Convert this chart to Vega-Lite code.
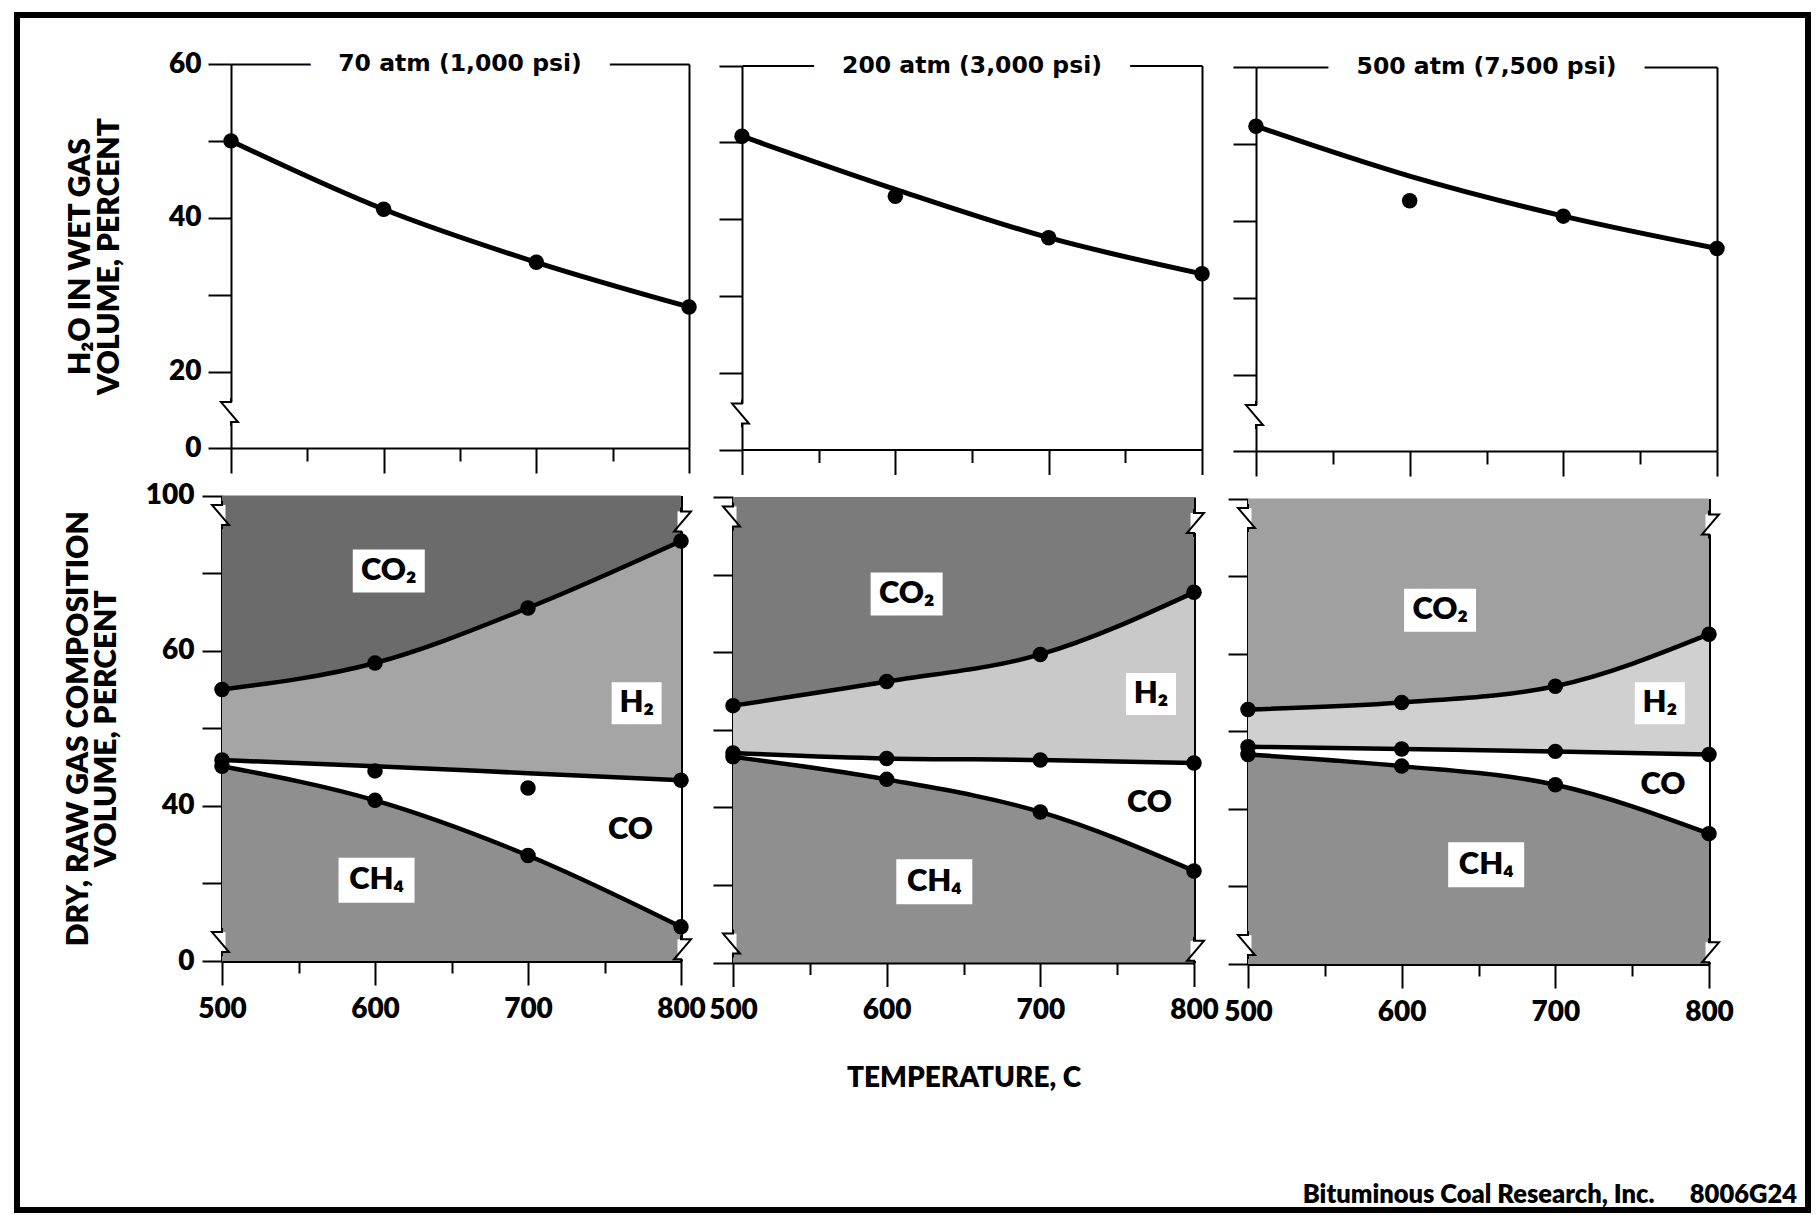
{
  "$schema": "https://vega.github.io/schema/vega-lite/v6.json",
  "width": 1791,
  "height": 1195,
  "autosize": {"type": "none"},
  "padding": {"left": 17, "top": 15, "right": 12, "bottom": 5},
  "background": "white",
  "title": {
    "text": "Bituminous Coal Research, Inc.\u00a0\u00a0\u00a0\u00a0\u00a0\u00a08006G24",
    "orient": "bottom", "anchor": "end", "frame": "group",
    "baseline": "alphabetic", "offset": -7, "dx": -11,
    "font": "Lato", "fontWeight": 800, "fontSize": 25.5, "color": "black"
  },
  "config": {
    "view": {"stroke": "black", "strokeWidth": 6},
    "axis": {
      "domainColor": "black", "domainWidth": 2, "tickColor": "black", "tickWidth": 2,
      "labelFont": "Lato", "labelFontWeight": 800, "labelColor": "black", "labelFontSize": 28,
      "titleFont": "Lato", "titleFontWeight": 800, "titleColor": "black", "titleFontSize": 30,
      "grid": false, "labelOverlap": false, "labelFlush": false, "labelBound": false
    }
  },
  "datasets": {
    "h2o": [
      {"p": "70", "t": 500, "line": 50.0, "pt": 50.0},
      {"p": "70", "t": 600, "line": 41.1, "pt": 41.1},
      {"p": "70", "t": 700, "line": 34.2, "pt": 34.2},
      {"p": "70", "t": 800, "line": 28.4, "pt": 28.4},
      {"p": "200", "t": 500, "line": 50.8, "pt": 50.8},
      {"p": "200", "t": 600, "line": 43.9, "pt": 43.0},
      {"p": "200", "t": 700, "line": 37.6, "pt": 37.6},
      {"p": "200", "t": 800, "line": 32.9, "pt": 32.9},
      {"p": "500", "t": 500, "line": 52.3, "pt": 52.3},
      {"p": "500", "t": 600, "line": 45.8, "pt": 42.6},
      {"p": "500", "t": 700, "line": 40.6, "pt": 40.6},
      {"p": "500", "t": 800, "line": 36.4, "pt": 36.4}
    ],
    "panels": [
      {"p": "70", "title": "70 atm (1,000 psi)"},
      {"p": "200", "title": "200 atm (3,000 psi)"},
      {"p": "500", "title": "500 atm (7,500 psi)"}
    ],
    "brk": [
      {"part": "top", "p": "70", "t": 500, "v": 9.4, "side": "L"},
      {"part": "top", "p": "200", "t": 500, "v": 9.4, "side": "L"},
      {"part": "top", "p": "500", "t": 500, "v": 9.4, "side": "L"},
      {"part": "bottom", "p": "70", "t": 500, "v": 92.5, "side": "L"},
      {"part": "bottom", "p": "70", "t": 500, "v": 7.3, "side": "L"},
      {"part": "bottom", "p": "70", "t": 800, "v": 90, "side": "R"},
      {"part": "bottom", "p": "70", "t": 800, "v": 4.5, "side": "R"},
      {"part": "bottom", "p": "200", "t": 500, "v": 92.5, "side": "L"},
      {"part": "bottom", "p": "200", "t": 500, "v": 7.3, "side": "L"},
      {"part": "bottom", "p": "200", "t": 800, "v": 90, "side": "R"},
      {"part": "bottom", "p": "200", "t": 800, "v": 4.5, "side": "R"},
      {"part": "bottom", "p": "500", "t": 500, "v": 92.5, "side": "L"},
      {"part": "bottom", "p": "500", "t": 500, "v": 7.3, "side": "L"},
      {"part": "bottom", "p": "500", "t": 800, "v": 90, "side": "R"},
      {"part": "bottom", "p": "500", "t": 800, "v": 4.5, "side": "R"}
    ],
    "comp": [
      {"p": "70", "t": 500, "gas": "CH4", "lo": 0, "hi": 45.1},
      {"p": "70", "t": 500, "gas": "CO", "lo": 45.1, "hi": 45.9},
      {"p": "70", "t": 500, "gas": "H2", "lo": 45.9, "hi": 55.0},
      {"p": "70", "t": 500, "gas": "CO2", "lo": 55.0, "hi": 100},
      {"p": "70", "t": 600, "gas": "CH4", "lo": 0, "hi": 40.7},
      {"p": "70", "t": 600, "gas": "CO", "lo": 40.7, "hi": 45.1},
      {"p": "70", "t": 600, "gas": "H2", "lo": 45.1, "hi": 58.4},
      {"p": "70", "t": 600, "gas": "CO2", "lo": 58.4, "hi": 100},
      {"p": "70", "t": 700, "gas": "CH4", "lo": 0, "hi": 33.6},
      {"p": "70", "t": 700, "gas": "CO", "lo": 33.6, "hi": 44.2},
      {"p": "70", "t": 700, "gas": "H2", "lo": 44.2, "hi": 65.5},
      {"p": "70", "t": 700, "gas": "CO2", "lo": 65.5, "hi": 100},
      {"p": "70", "t": 800, "gas": "CH4", "lo": 0, "hi": 13.2},
      {"p": "70", "t": 800, "gas": "CO", "lo": 13.2, "hi": 43.3},
      {"p": "70", "t": 800, "gas": "H2", "lo": 43.3, "hi": 82.4},
      {"p": "70", "t": 800, "gas": "CO2", "lo": 82.4, "hi": 100},
      {"p": "200", "t": 500, "gas": "CH4", "lo": 0, "hi": 46.5},
      {"p": "200", "t": 500, "gas": "CO", "lo": 46.5, "hi": 47.0},
      {"p": "200", "t": 500, "gas": "H2", "lo": 47.0, "hi": 53.1},
      {"p": "200", "t": 500, "gas": "CO2", "lo": 53.1, "hi": 100},
      {"p": "200", "t": 600, "gas": "CH4", "lo": 0, "hi": 43.6},
      {"p": "200", "t": 600, "gas": "CO", "lo": 43.6, "hi": 46.3},
      {"p": "200", "t": 600, "gas": "H2", "lo": 46.3, "hi": 56.2},
      {"p": "200", "t": 600, "gas": "CO2", "lo": 56.2, "hi": 100},
      {"p": "200", "t": 700, "gas": "CH4", "lo": 0, "hi": 39.4},
      {"p": "200", "t": 700, "gas": "CO", "lo": 39.4, "hi": 46.1},
      {"p": "200", "t": 700, "gas": "H2", "lo": 46.1, "hi": 59.7},
      {"p": "200", "t": 700, "gas": "CO2", "lo": 59.7, "hi": 100},
      {"p": "200", "t": 800, "gas": "CH4", "lo": 0, "hi": 31.8},
      {"p": "200", "t": 800, "gas": "CO", "lo": 31.8, "hi": 45.7},
      {"p": "200", "t": 800, "gas": "H2", "lo": 45.7, "hi": 67.7},
      {"p": "200", "t": 800, "gas": "CO2", "lo": 67.7, "hi": 100},
      {"p": "500", "t": 500, "gas": "CH4", "lo": 0, "hi": 47.0},
      {"p": "500", "t": 500, "gas": "CO", "lo": 47.0, "hi": 48.0},
      {"p": "500", "t": 500, "gas": "H2", "lo": 48.0, "hi": 52.8},
      {"p": "500", "t": 500, "gas": "CO2", "lo": 52.8, "hi": 100},
      {"p": "500", "t": 600, "gas": "CH4", "lo": 0, "hi": 45.5},
      {"p": "500", "t": 600, "gas": "CO", "lo": 45.5, "hi": 47.7},
      {"p": "500", "t": 600, "gas": "H2", "lo": 47.7, "hi": 53.7},
      {"p": "500", "t": 600, "gas": "CO2", "lo": 53.7, "hi": 100},
      {"p": "500", "t": 700, "gas": "CH4", "lo": 0, "hi": 43.1},
      {"p": "500", "t": 700, "gas": "CO", "lo": 43.1, "hi": 47.4},
      {"p": "500", "t": 700, "gas": "H2", "lo": 47.4, "hi": 55.8},
      {"p": "500", "t": 700, "gas": "CO2", "lo": 55.8, "hi": 100},
      {"p": "500", "t": 800, "gas": "CH4", "lo": 0, "hi": 36.8},
      {"p": "500", "t": 800, "gas": "CO", "lo": 36.8, "hi": 47.0},
      {"p": "500", "t": 800, "gas": "H2", "lo": 47.0, "hi": 62.5},
      {"p": "500", "t": 800, "gas": "CO2", "lo": 62.5, "hi": 100}
    ],
    "pts": [
      {"p": "70", "b": "H2/CO2", "t": 500, "v": 55.0},
      {"p": "70", "b": "H2/CO2", "t": 600, "v": 58.4},
      {"p": "70", "b": "H2/CO2", "t": 700, "v": 65.5},
      {"p": "70", "b": "H2/CO2", "t": 800, "v": 82.4},
      {"p": "70", "b": "CO/H2", "t": 500, "v": 45.9},
      {"p": "70", "b": "CO/H2", "t": 600, "v": 44.5},
      {"p": "70", "b": "CO/H2", "t": 700, "v": 42.3},
      {"p": "70", "b": "CO/H2", "t": 800, "v": 43.3},
      {"p": "70", "b": "CH4/CO", "t": 500, "v": 45.1},
      {"p": "70", "b": "CH4/CO", "t": 600, "v": 40.7},
      {"p": "70", "b": "CH4/CO", "t": 700, "v": 33.6},
      {"p": "70", "b": "CH4/CO", "t": 800, "v": 13.2},
      {"p": "200", "b": "H2/CO2", "t": 500, "v": 53.1},
      {"p": "200", "b": "H2/CO2", "t": 600, "v": 56.2},
      {"p": "200", "b": "H2/CO2", "t": 700, "v": 59.7},
      {"p": "200", "b": "H2/CO2", "t": 800, "v": 67.7},
      {"p": "200", "b": "CO/H2", "t": 500, "v": 47.0},
      {"p": "200", "b": "CO/H2", "t": 600, "v": 46.3},
      {"p": "200", "b": "CO/H2", "t": 700, "v": 46.1},
      {"p": "200", "b": "CO/H2", "t": 800, "v": 45.7},
      {"p": "200", "b": "CH4/CO", "t": 500, "v": 46.5},
      {"p": "200", "b": "CH4/CO", "t": 600, "v": 43.6},
      {"p": "200", "b": "CH4/CO", "t": 700, "v": 39.4},
      {"p": "200", "b": "CH4/CO", "t": 800, "v": 31.8},
      {"p": "500", "b": "H2/CO2", "t": 500, "v": 52.8},
      {"p": "500", "b": "H2/CO2", "t": 600, "v": 53.7},
      {"p": "500", "b": "H2/CO2", "t": 700, "v": 55.8},
      {"p": "500", "b": "H2/CO2", "t": 800, "v": 62.5},
      {"p": "500", "b": "CO/H2", "t": 500, "v": 48.0},
      {"p": "500", "b": "CO/H2", "t": 600, "v": 47.7},
      {"p": "500", "b": "CO/H2", "t": 700, "v": 47.4},
      {"p": "500", "b": "CO/H2", "t": 800, "v": 47.0},
      {"p": "500", "b": "CH4/CO", "t": 500, "v": 47.0},
      {"p": "500", "b": "CH4/CO", "t": 600, "v": 45.5},
      {"p": "500", "b": "CH4/CO", "t": 700, "v": 43.1},
      {"p": "500", "b": "CH4/CO", "t": 800, "v": 36.8}
    ],
    "lbl": [
      {"p": "70", "gas": "CO2", "label": "CO₂", "t": 609, "v": 70.8},
      {"p": "70", "gas": "H2", "label": "H₂", "t": 771, "v": 53.2},
      {"p": "70", "gas": "CO", "label": "CO", "t": 767, "v": 36.9},
      {"p": "70", "gas": "CH4", "label": "CH₄", "t": 601, "v": 30.4},
      {"p": "200", "gas": "CO2", "label": "CO₂", "t": 613, "v": 67.5},
      {"p": "200", "gas": "H2", "label": "H₂", "t": 772, "v": 54.6},
      {"p": "200", "gas": "CO", "label": "CO", "t": 771, "v": 40.6},
      {"p": "200", "gas": "CH4", "label": "CH₄", "t": 631, "v": 30.4},
      {"p": "500", "gas": "CO2", "label": "CO₂", "t": 625, "v": 65.6},
      {"p": "500", "gas": "H2", "label": "H₂", "t": 768, "v": 53.6},
      {"p": "500", "gas": "CO", "label": "CO", "t": 770, "v": 43.1},
      {"p": "500", "gas": "CH4", "label": "CH₄", "t": 655, "v": 32.8}
    ]
  },
  "resolve": {
    "scale": {"x": "independent", "y": "independent", "color": "independent"},
    "axis": {"x": "independent", "y": "independent"}
  },
  "layer": [
    {
      "layer": [
        {
          "data": {"name": "h2o"}, "transform": [{"filter": "datum.p == '70'"}],
          "mark": {"type": "line", "interpolate": "monotone", "color": "black", "strokeWidth": 5},
          "encoding": {
            "x": {"field": "t", "type": "quantitative",
              "scale": {"domain": [500, 800], "range": [214, 672], "nice": false, "zero": false},
              "axis": {"orient": "bottom", "offset": -762, "values": [500, 550, 600, 650, 700, 750, 800], "labels": false,
                "tickSize": {"condition": {"test": "datum.value % 100 == 0", "value": 25}, "value": 13}, "title": null}},
            "y": {"field": "line", "type": "quantitative",
              "scale": {"domain": [0, 20, 60], "range": [433, 356.5, 49], "nice": false, "zero": false},
              "axis": {"orient": "left", "offset": -214, "values": [0, 20, 30, 40, 50, 60],
                "labelExpr": "datum.value % 20 == 0 ? datum.label : ''", "tickSize": 23, "labelPadding": 7,
                "title": ["H₂O IN WET GAS", "VOLUME, PERCENT"], "titlePadding": 44, "titleLineHeight": 29}}
          }
        },
        {
          "data": {"name": "h2o"}, "transform": [{"filter": "datum.p == '70'"}],
          "mark": {"type": "circle", "size": 240, "color": "black", "opacity": 1},
          "encoding": {"x": {"field": "t", "type": "quantitative", "axis": null}, "y": {"field": "pt", "type": "quantitative", "axis": null}}
        },
        {
          "data": {"name": "h2o"}, "transform": [{"filter": "datum.p == '70'"}],
          "mark": {"type": "point", "opacity": 0},
          "encoding": {
            "x": {"field": "t", "type": "quantitative", "axis": {"orient": "top", "offset": -49, "ticks": false, "labels": false, "title": null}},
            "y": {"field": "line", "type": "quantitative", "axis": {"orient": "right", "offset": -1119, "ticks": false, "labels": false, "title": null}}
          }
        },
        {
          "data": {"name": "brk"}, "transform": [{"filter": "datum.p == '70' && datum.part == 'top'"}],
          "mark": {"type": "point", "shape": "M-0.35,-1H0.35V1H-0.35Z", "size": 400, "filled": true, "fill": "white", "strokeWidth": 0, "opacity": 1},
          "encoding": {"x": {"field": "t", "type": "quantitative", "axis": null}, "y": {"field": "v", "type": "quantitative", "axis": null}}
        },
        {
          "data": {"name": "brk"}, "transform": [{"filter": "datum.p == '70' && datum.part == 'top'"}],
          "mark": {"type": "point", "shape": "M0,-1.4L0,-1L-1,-1L0.7,1L0,1L0,1.4", "size": 400, "filled": false, "stroke": "black", "strokeWidth": 2, "opacity": 1},
          "encoding": {"x": {"field": "t", "type": "quantitative", "axis": null}, "y": {"field": "v", "type": "quantitative", "axis": null}}
        },
        {
          "data": {"name": "panels"}, "transform": [{"filter": "datum.p == '70'"}],
          "mark": {"type": "text", "font": "DejaVu Sans", "fontWeight": "bold", "fontSize": 23.5, "fill": "white", "stroke": "white", "strokeWidth": 60, "strokeJoin": "round"},
          "encoding": {"x": {"datum": 650, "axis": null}, "y": {"datum": 60, "axis": null}, "text": {"field": "title"}}
        },
        {
          "data": {"name": "panels"}, "transform": [{"filter": "datum.p == '70'"}],
          "mark": {"type": "text", "font": "DejaVu Sans", "fontWeight": "bold", "fontSize": 23.5, "fill": "black"},
          "encoding": {"x": {"datum": 650, "axis": null}, "y": {"datum": 60, "axis": null}, "text": {"field": "title"}}
        }
      ],
      "resolve": {"axis": {"x": "independent", "y": "independent"}}
    },
    {
      "layer": [
        {
          "data": {"name": "h2o"}, "transform": [{"filter": "datum.p == '200'"}],
          "mark": {"type": "line", "interpolate": "monotone", "color": "black", "strokeWidth": 5},
          "encoding": {
            "x": {"field": "t", "type": "quantitative",
              "scale": {"domain": [500, 800], "range": [725, 1185], "nice": false, "zero": false},
              "axis": {"orient": "bottom", "offset": -760.5, "values": [500, 550, 600, 650, 700, 750, 800], "labels": false,
                "tickSize": {"condition": {"test": "datum.value % 100 == 0", "value": 25}, "value": 13}, "title": null}},
            "y": {"field": "line", "type": "quantitative",
              "scale": {"domain": [0, 20, 60], "range": [434.5, 358, 50.5], "nice": false, "zero": false},
              "axis": {"orient": "left", "offset": -725, "values": [0, 20, 30, 40, 50, 60], "labels": false, "tickSize": 23, "title": null}}
          }
        },
        {
          "data": {"name": "h2o"}, "transform": [{"filter": "datum.p == '200'"}],
          "mark": {"type": "circle", "size": 240, "color": "black", "opacity": 1},
          "encoding": {"x": {"field": "t", "type": "quantitative", "axis": null}, "y": {"field": "pt", "type": "quantitative", "axis": null}}
        },
        {
          "data": {"name": "h2o"}, "transform": [{"filter": "datum.p == '200'"}],
          "mark": {"type": "point", "opacity": 0},
          "encoding": {
            "x": {"field": "t", "type": "quantitative", "axis": {"orient": "top", "offset": -50.5, "ticks": false, "labels": false, "title": null}},
            "y": {"field": "line", "type": "quantitative", "axis": {"orient": "right", "offset": -606, "ticks": false, "labels": false, "title": null}}
          }
        },
        {
          "data": {"name": "brk"}, "transform": [{"filter": "datum.p == '200' && datum.part == 'top'"}],
          "mark": {"type": "point", "shape": "M-0.35,-1H0.35V1H-0.35Z", "size": 400, "filled": true, "fill": "white", "strokeWidth": 0, "opacity": 1},
          "encoding": {"x": {"field": "t", "type": "quantitative", "axis": null}, "y": {"field": "v", "type": "quantitative", "axis": null}}
        },
        {
          "data": {"name": "brk"}, "transform": [{"filter": "datum.p == '200' && datum.part == 'top'"}],
          "mark": {"type": "point", "shape": "M0,-1.4L0,-1L-1,-1L0.7,1L0,1L0,1.4", "size": 400, "filled": false, "stroke": "black", "strokeWidth": 2, "opacity": 1},
          "encoding": {"x": {"field": "t", "type": "quantitative", "axis": null}, "y": {"field": "v", "type": "quantitative", "axis": null}}
        },
        {
          "data": {"name": "panels"}, "transform": [{"filter": "datum.p == '200'"}],
          "mark": {"type": "text", "font": "DejaVu Sans", "fontWeight": "bold", "fontSize": 23.5, "fill": "white", "stroke": "white", "strokeWidth": 60, "strokeJoin": "round"},
          "encoding": {"x": {"datum": 650, "axis": null}, "y": {"datum": 60, "axis": null}, "text": {"field": "title"}}
        },
        {
          "data": {"name": "panels"}, "transform": [{"filter": "datum.p == '200'"}],
          "mark": {"type": "text", "font": "DejaVu Sans", "fontWeight": "bold", "fontSize": 23.5, "fill": "black"},
          "encoding": {"x": {"datum": 650, "axis": null}, "y": {"datum": 60, "axis": null}, "text": {"field": "title"}}
        }
      ],
      "resolve": {"axis": {"x": "independent", "y": "independent"}}
    },
    {
      "layer": [
        {
          "data": {"name": "h2o"}, "transform": [{"filter": "datum.p == '500'"}],
          "mark": {"type": "line", "interpolate": "monotone", "color": "black", "strokeWidth": 5},
          "encoding": {
            "x": {"field": "t", "type": "quantitative",
              "scale": {"domain": [500, 800], "range": [1239, 1700], "nice": false, "zero": false},
              "axis": {"orient": "bottom", "offset": -759, "values": [500, 550, 600, 650, 700, 750, 800], "labels": false,
                "tickSize": {"condition": {"test": "datum.value % 100 == 0", "value": 25}, "value": 13}, "title": null}},
            "y": {"field": "line", "type": "quantitative",
              "scale": {"domain": [0, 20, 60], "range": [436, 359.5, 52], "nice": false, "zero": false},
              "axis": {"orient": "left", "offset": -1239, "values": [0, 20, 30, 40, 50, 60], "labels": false, "tickSize": 23, "title": null}}
          }
        },
        {
          "data": {"name": "h2o"}, "transform": [{"filter": "datum.p == '500'"}],
          "mark": {"type": "circle", "size": 240, "color": "black", "opacity": 1},
          "encoding": {"x": {"field": "t", "type": "quantitative", "axis": null}, "y": {"field": "pt", "type": "quantitative", "axis": null}}
        },
        {
          "data": {"name": "h2o"}, "transform": [{"filter": "datum.p == '500'"}],
          "mark": {"type": "point", "opacity": 0},
          "encoding": {
            "x": {"field": "t", "type": "quantitative", "axis": {"orient": "top", "offset": -52, "ticks": false, "labels": false, "title": null}},
            "y": {"field": "line", "type": "quantitative", "axis": {"orient": "right", "offset": -91, "ticks": false, "labels": false, "title": null}}
          }
        },
        {
          "data": {"name": "brk"}, "transform": [{"filter": "datum.p == '500' && datum.part == 'top'"}],
          "mark": {"type": "point", "shape": "M-0.35,-1H0.35V1H-0.35Z", "size": 400, "filled": true, "fill": "white", "strokeWidth": 0, "opacity": 1},
          "encoding": {"x": {"field": "t", "type": "quantitative", "axis": null}, "y": {"field": "v", "type": "quantitative", "axis": null}}
        },
        {
          "data": {"name": "brk"}, "transform": [{"filter": "datum.p == '500' && datum.part == 'top'"}],
          "mark": {"type": "point", "shape": "M0,-1.4L0,-1L-1,-1L0.7,1L0,1L0,1.4", "size": 400, "filled": false, "stroke": "black", "strokeWidth": 2, "opacity": 1},
          "encoding": {"x": {"field": "t", "type": "quantitative", "axis": null}, "y": {"field": "v", "type": "quantitative", "axis": null}}
        },
        {
          "data": {"name": "panels"}, "transform": [{"filter": "datum.p == '500'"}],
          "mark": {"type": "text", "font": "DejaVu Sans", "fontWeight": "bold", "fontSize": 23.5, "fill": "white", "stroke": "white", "strokeWidth": 60, "strokeJoin": "round"},
          "encoding": {"x": {"datum": 650, "axis": null}, "y": {"datum": 60, "axis": null}, "text": {"field": "title"}}
        },
        {
          "data": {"name": "panels"}, "transform": [{"filter": "datum.p == '500'"}],
          "mark": {"type": "text", "font": "DejaVu Sans", "fontWeight": "bold", "fontSize": 23.5, "fill": "black"},
          "encoding": {"x": {"datum": 650, "axis": null}, "y": {"datum": 60, "axis": null}, "text": {"field": "title"}}
        }
      ],
      "resolve": {"axis": {"x": "independent", "y": "independent"}}
    },
    {
      "layer": [
        {
          "data": {"name": "comp"}, "transform": [{"filter": "datum.p == '70'"}],
          "mark": {"type": "area", "interpolate": "monotone", "opacity": 1},
          "encoding": {
            "x": {"field": "t", "type": "quantitative",
              "scale": {"domain": [500, 800], "range": [205, 664], "nice": false, "zero": false},
              "axis": {"orient": "bottom", "offset": -249, "domainWidth": 3, "values": [500, 550, 600, 650, 700, 750, 800],
                "labelExpr": "datum.value % 100 == 0 ? datum.label : ''", "labelFontSize": 28, "labelPadding": 10,
                "tickSize": {"condition": {"test": "datum.value % 100 == 0", "value": 24}, "value": 12}, "title": null}},
            "y": {"field": "lo", "type": "quantitative",
              "scale": {"domain": [0, 30, 70, 100], "range": [946, 868.4, 558, 480.6], "nice": false, "zero": false},
              "axis": {"orient": "left", "offset": -205, "domainWidth": 3, "values": [0, 30, 40, 50, 60, 70, 100],
                "labelExpr": "(datum.value == 0 || datum.value == 40 || datum.value == 60 || datum.value == 100) ? datum.label : ''",
                "tickSize": 20, "labelPadding": 8,
                "title": ["DRY, RAW GAS COMPOSITION", "VOLUME, PERCENT"], "titlePadding": 24, "titleLineHeight": 28}},
            "y2": {"field": "hi"},
            "color": {"field": "gas", "type": "nominal",
              "scale": {"domain": ["CH4", "CO", "H2", "CO2"], "range": ["#8f8f8f", "#ffffff", "#a5a5a5", "#6b6b6b"]}, "legend": null}
          }
        },
        {
          "data": {"name": "lbl"}, "transform": [{"filter": "datum.p == '70'"}],
          "mark": {"type": "point", "filled": true, "fill": "white", "strokeWidth": 0, "size": 400, "opacity": 1},
          "encoding": {
            "x": {"field": "t", "type": "quantitative", "axis": null},
            "y": {"field": "v", "type": "quantitative", "axis": null},
            "shape": {"field": "gas", "type": "nominal", "legend": null,
              "scale": {"domain": ["CO2", "H2", "CO", "CH4"], "range": ["M-3.6,-2.15H3.6V2.15H-3.6Z", "M-2.5,-2.1H2.5V2.1H-2.5Z", "M-2.8,-2H2.8V2H-2.8Z", "M-3.8,-2.25H3.8V2.25H-3.8Z"]}}
          }
        },
        {
          "data": {"name": "comp"}, "transform": [{"filter": "datum.p == '70' && datum.gas != 'CO2'"}],
          "mark": {"type": "line", "interpolate": "monotone", "color": "black", "strokeWidth": 4.5},
          "encoding": {
            "x": {"field": "t", "type": "quantitative", "axis": null},
            "y": {"field": "hi", "type": "quantitative", "axis": null},
            "detail": {"field": "gas"}
          }
        },
        {
          "data": {"name": "pts"}, "transform": [{"filter": "datum.p == '70'"}],
          "mark": {"type": "circle", "size": 240, "color": "black", "opacity": 1},
          "encoding": {"x": {"field": "t", "type": "quantitative", "axis": null}, "y": {"field": "v", "type": "quantitative", "axis": null}}
        },
        {
          "data": {"name": "lbl"}, "transform": [{"filter": "datum.p == '70'"}],
          "mark": {"type": "text", "font": "Lato", "fontWeight": 800, "fontSize": 31, "fill": "black"},
          "encoding": {"x": {"field": "t", "type": "quantitative", "axis": null}, "y": {"field": "v", "type": "quantitative", "axis": null}, "text": {"field": "label"}}
        },
        {
          "data": {"name": "brk"}, "transform": [{"filter": "datum.p == '70' && datum.part == 'bottom'"}],
          "mark": {"type": "point", "shape": "M-0.35,-1H0.35V1H-0.35Z", "size": 400, "filled": true, "fill": "white", "strokeWidth": 0, "opacity": 1},
          "encoding": {"x": {"field": "t", "type": "quantitative", "axis": null}, "y": {"field": "v", "type": "quantitative", "axis": null}}
        },
        {
          "data": {"name": "brk"}, "transform": [{"filter": "datum.p == '70' && datum.part == 'bottom' && datum.side == 'L'"}],
          "mark": {"type": "point", "shape": "M0,-1.4L0,-1L-1,-1L0.7,1L0,1L0,1.4", "size": 400, "filled": false, "stroke": "black", "strokeWidth": 2, "opacity": 1},
          "encoding": {"x": {"field": "t", "type": "quantitative", "axis": null}, "y": {"field": "v", "type": "quantitative", "axis": null}}
        },
        {
          "data": {"name": "brk"}, "transform": [{"filter": "datum.p == '70' && datum.part == 'bottom' && datum.side == 'R'"}],
          "mark": {"type": "point", "shape": "M0,-1.4L0,-1L1,-1L-0.7,1L0,1L0,1.4", "size": 400, "filled": false, "stroke": "black", "strokeWidth": 2, "opacity": 1},
          "encoding": {"x": {"field": "t", "type": "quantitative", "axis": null}, "y": {"field": "v", "type": "quantitative", "axis": null}}
        },
        {
          "data": {"name": "comp"}, "transform": [{"filter": "datum.p == '70'"}],
          "mark": {"type": "point", "opacity": 0},
          "encoding": {
            "x": {"field": "t", "type": "quantitative", "axis": null},
            "y": {"field": "hi", "type": "quantitative", "axis": {"orient": "right", "offset": -1127, "domainWidth": 3, "ticks": false, "labels": false, "title": null}}
          }
        }
      ],
      "resolve": {"axis": {"x": "independent", "y": "independent"}}
    },
    {
      "layer": [
        {
          "data": {"name": "comp"}, "transform": [{"filter": "datum.p == '200'"}],
          "mark": {"type": "area", "interpolate": "monotone", "opacity": 1},
          "encoding": {
            "x": {"field": "t", "type": "quantitative",
              "scale": {"domain": [500, 800], "range": [716, 1177], "nice": false, "zero": false},
              "axis": {"orient": "bottom", "offset": -247.5, "domainWidth": 3, "values": [500, 550, 600, 650, 700, 750, 800],
                "labelExpr": "datum.value % 100 == 0 ? datum.label : ''", "labelFontSize": 28, "labelPadding": 10,
                "tickSize": {"condition": {"test": "datum.value % 100 == 0", "value": 24}, "value": 12},
                "title": "TEMPERATURE, C", "titleFontSize": 28, "titlePadding": 40}},
            "y": {"field": "lo", "type": "quantitative",
              "scale": {"domain": [0, 30, 70, 100], "range": [947.5, 869.9, 559.5, 482.1], "nice": false, "zero": false},
              "axis": {"orient": "left", "offset": -716, "domainWidth": 3, "values": [0, 30, 40, 50, 60, 70, 100], "labels": false, "tickSize": 20, "title": null}},
            "y2": {"field": "hi"},
            "color": {"field": "gas", "type": "nominal",
              "scale": {"domain": ["CH4", "CO", "H2", "CO2"], "range": ["#8f8f8f", "#ffffff", "#c9c9c9", "#7b7b7b"]}, "legend": null}
          }
        },
        {
          "data": {"name": "lbl"}, "transform": [{"filter": "datum.p == '200'"}],
          "mark": {"type": "point", "filled": true, "fill": "white", "strokeWidth": 0, "size": 400, "opacity": 1},
          "encoding": {
            "x": {"field": "t", "type": "quantitative", "axis": null},
            "y": {"field": "v", "type": "quantitative", "axis": null},
            "shape": {"field": "gas", "type": "nominal", "legend": null,
              "scale": {"domain": ["CO2", "H2", "CO", "CH4"], "range": ["M-3.6,-2.15H3.6V2.15H-3.6Z", "M-2.5,-2.1H2.5V2.1H-2.5Z", "M-2.8,-2H2.8V2H-2.8Z", "M-3.8,-2.25H3.8V2.25H-3.8Z"]}}
          }
        },
        {
          "data": {"name": "comp"}, "transform": [{"filter": "datum.p == '200' && datum.gas != 'CO2'"}],
          "mark": {"type": "line", "interpolate": "monotone", "color": "black", "strokeWidth": 4.5},
          "encoding": {
            "x": {"field": "t", "type": "quantitative", "axis": null},
            "y": {"field": "hi", "type": "quantitative", "axis": null},
            "detail": {"field": "gas"}
          }
        },
        {
          "data": {"name": "pts"}, "transform": [{"filter": "datum.p == '200'"}],
          "mark": {"type": "circle", "size": 240, "color": "black", "opacity": 1},
          "encoding": {"x": {"field": "t", "type": "quantitative", "axis": null}, "y": {"field": "v", "type": "quantitative", "axis": null}}
        },
        {
          "data": {"name": "lbl"}, "transform": [{"filter": "datum.p == '200'"}],
          "mark": {"type": "text", "font": "Lato", "fontWeight": 800, "fontSize": 31, "fill": "black"},
          "encoding": {"x": {"field": "t", "type": "quantitative", "axis": null}, "y": {"field": "v", "type": "quantitative", "axis": null}, "text": {"field": "label"}}
        },
        {
          "data": {"name": "brk"}, "transform": [{"filter": "datum.p == '200' && datum.part == 'bottom'"}],
          "mark": {"type": "point", "shape": "M-0.35,-1H0.35V1H-0.35Z", "size": 400, "filled": true, "fill": "white", "strokeWidth": 0, "opacity": 1},
          "encoding": {"x": {"field": "t", "type": "quantitative", "axis": null}, "y": {"field": "v", "type": "quantitative", "axis": null}}
        },
        {
          "data": {"name": "brk"}, "transform": [{"filter": "datum.p == '200' && datum.part == 'bottom' && datum.side == 'L'"}],
          "mark": {"type": "point", "shape": "M0,-1.4L0,-1L-1,-1L0.7,1L0,1L0,1.4", "size": 400, "filled": false, "stroke": "black", "strokeWidth": 2, "opacity": 1},
          "encoding": {"x": {"field": "t", "type": "quantitative", "axis": null}, "y": {"field": "v", "type": "quantitative", "axis": null}}
        },
        {
          "data": {"name": "brk"}, "transform": [{"filter": "datum.p == '200' && datum.part == 'bottom' && datum.side == 'R'"}],
          "mark": {"type": "point", "shape": "M0,-1.4L0,-1L1,-1L-0.7,1L0,1L0,1.4", "size": 400, "filled": false, "stroke": "black", "strokeWidth": 2, "opacity": 1},
          "encoding": {"x": {"field": "t", "type": "quantitative", "axis": null}, "y": {"field": "v", "type": "quantitative", "axis": null}}
        },
        {
          "data": {"name": "comp"}, "transform": [{"filter": "datum.p == '200'"}],
          "mark": {"type": "point", "opacity": 0},
          "encoding": {
            "x": {"field": "t", "type": "quantitative", "axis": null},
            "y": {"field": "hi", "type": "quantitative", "axis": {"orient": "right", "offset": -614, "domainWidth": 3, "ticks": false, "labels": false, "title": null}}
          }
        }
      ],
      "resolve": {"axis": {"x": "independent", "y": "independent"}}
    },
    {
      "layer": [
        {
          "data": {"name": "comp"}, "transform": [{"filter": "datum.p == '500'"}],
          "mark": {"type": "area", "interpolate": "monotone", "opacity": 1},
          "encoding": {
            "x": {"field": "t", "type": "quantitative",
              "scale": {"domain": [500, 800], "range": [1231, 1692], "nice": false, "zero": false},
              "axis": {"orient": "bottom", "offset": -246, "domainWidth": 3, "values": [500, 550, 600, 650, 700, 750, 800],
                "labelExpr": "datum.value % 100 == 0 ? datum.label : ''", "labelFontSize": 28, "labelPadding": 10,
                "tickSize": {"condition": {"test": "datum.value % 100 == 0", "value": 24}, "value": 12}, "title": null}},
            "y": {"field": "lo", "type": "quantitative",
              "scale": {"domain": [0, 30, 70, 100], "range": [949, 871.4, 561, 483.6], "nice": false, "zero": false},
              "axis": {"orient": "left", "offset": -1231, "domainWidth": 3, "values": [0, 30, 40, 50, 60, 70, 100], "labels": false, "tickSize": 20, "title": null}},
            "y2": {"field": "hi"},
            "color": {"field": "gas", "type": "nominal",
              "scale": {"domain": ["CH4", "CO", "H2", "CO2"], "range": ["#8f8f8f", "#ffffff", "#d0d0d0", "#a0a0a0"]}, "legend": null}
          }
        },
        {
          "data": {"name": "lbl"}, "transform": [{"filter": "datum.p == '500'"}],
          "mark": {"type": "point", "filled": true, "fill": "white", "strokeWidth": 0, "size": 400, "opacity": 1},
          "encoding": {
            "x": {"field": "t", "type": "quantitative", "axis": null},
            "y": {"field": "v", "type": "quantitative", "axis": null},
            "shape": {"field": "gas", "type": "nominal", "legend": null,
              "scale": {"domain": ["CO2", "H2", "CO", "CH4"], "range": ["M-3.6,-2.15H3.6V2.15H-3.6Z", "M-2.5,-2.1H2.5V2.1H-2.5Z", "M-2.8,-2H2.8V2H-2.8Z", "M-3.8,-2.25H3.8V2.25H-3.8Z"]}}
          }
        },
        {
          "data": {"name": "comp"}, "transform": [{"filter": "datum.p == '500' && datum.gas != 'CO2'"}],
          "mark": {"type": "line", "interpolate": "monotone", "color": "black", "strokeWidth": 4.5},
          "encoding": {
            "x": {"field": "t", "type": "quantitative", "axis": null},
            "y": {"field": "hi", "type": "quantitative", "axis": null},
            "detail": {"field": "gas"}
          }
        },
        {
          "data": {"name": "pts"}, "transform": [{"filter": "datum.p == '500'"}],
          "mark": {"type": "circle", "size": 240, "color": "black", "opacity": 1},
          "encoding": {"x": {"field": "t", "type": "quantitative", "axis": null}, "y": {"field": "v", "type": "quantitative", "axis": null}}
        },
        {
          "data": {"name": "lbl"}, "transform": [{"filter": "datum.p == '500'"}],
          "mark": {"type": "text", "font": "Lato", "fontWeight": 800, "fontSize": 31, "fill": "black"},
          "encoding": {"x": {"field": "t", "type": "quantitative", "axis": null}, "y": {"field": "v", "type": "quantitative", "axis": null}, "text": {"field": "label"}}
        },
        {
          "data": {"name": "brk"}, "transform": [{"filter": "datum.p == '500' && datum.part == 'bottom'"}],
          "mark": {"type": "point", "shape": "M-0.35,-1H0.35V1H-0.35Z", "size": 400, "filled": true, "fill": "white", "strokeWidth": 0, "opacity": 1},
          "encoding": {"x": {"field": "t", "type": "quantitative", "axis": null}, "y": {"field": "v", "type": "quantitative", "axis": null}}
        },
        {
          "data": {"name": "brk"}, "transform": [{"filter": "datum.p == '500' && datum.part == 'bottom' && datum.side == 'L'"}],
          "mark": {"type": "point", "shape": "M0,-1.4L0,-1L-1,-1L0.7,1L0,1L0,1.4", "size": 400, "filled": false, "stroke": "black", "strokeWidth": 2, "opacity": 1},
          "encoding": {"x": {"field": "t", "type": "quantitative", "axis": null}, "y": {"field": "v", "type": "quantitative", "axis": null}}
        },
        {
          "data": {"name": "brk"}, "transform": [{"filter": "datum.p == '500' && datum.part == 'bottom' && datum.side == 'R'"}],
          "mark": {"type": "point", "shape": "M0,-1.4L0,-1L1,-1L-0.7,1L0,1L0,1.4", "size": 400, "filled": false, "stroke": "black", "strokeWidth": 2, "opacity": 1},
          "encoding": {"x": {"field": "t", "type": "quantitative", "axis": null}, "y": {"field": "v", "type": "quantitative", "axis": null}}
        },
        {
          "data": {"name": "comp"}, "transform": [{"filter": "datum.p == '500'"}],
          "mark": {"type": "point", "opacity": 0},
          "encoding": {
            "x": {"field": "t", "type": "quantitative", "axis": null},
            "y": {"field": "hi", "type": "quantitative", "axis": {"orient": "right", "offset": -99, "domainWidth": 3, "ticks": false, "labels": false, "title": null}}
          }
        }
      ],
      "resolve": {"axis": {"x": "independent", "y": "independent"}}
    }
  ]
}
